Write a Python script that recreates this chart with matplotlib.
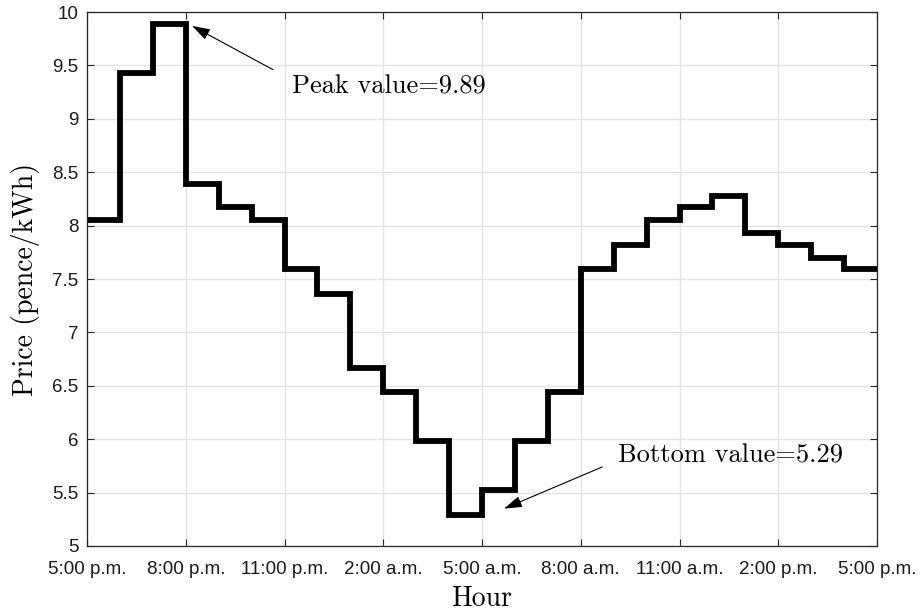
import matplotlib.pyplot as plt
import numpy as np

# Hourly electricity price over one day, starting at 5:00 p.m.
hours = np.arange(0, 25)
price = [8.05, 9.43, 9.89, 8.39, 8.17, 8.05, 7.59, 7.36, 6.67, 6.44, 5.98, 5.29,
         5.52, 5.98, 6.44, 7.59, 7.82, 8.05, 8.17, 8.28, 7.93, 7.82, 7.70, 7.59]
tick_hours = [0, 3, 6, 9, 12, 15, 18, 21, 24]
tick_labels = ['5:00 p.m.', '8:00 p.m.', '11:00 p.m.', '2:00 a.m.', '5:00 a.m.',
               '8:00 a.m.', '11:00 a.m.', '2:00 p.m.', '5:00 p.m.']
price_ticks = [5, 5.5, 6, 6.5, 7, 7.5, 8, 8.5, 9, 9.5, 10]
price_tick_labels = ['5', '5.5', '6', '6.5', '7', '7.5', '8', '8.5', '9', '9.5', '10']
peak_label = 'Peak value=9.89'
bottom_label = 'Bottom value=5.29'

fig = plt.figure(figsize=(9.22, 6.13), dpi=100)
ax = fig.add_axes([0.0944, 0.1093, 0.8568, 0.8711])

ax.stairs(price, hours, color='black', linewidth=4.2, baseline=None)

ax.set_xlim(0, 24)
ax.set_ylim(5, 10)
ax.set_xticks(tick_hours)
ax.set_xticklabels(tick_labels, fontfamily='Liberation Sans', fontsize=13.5)
ax.set_yticks(price_ticks)
ax.set_yticklabels(price_tick_labels, fontfamily='Liberation Sans', fontsize=13.5)

ax.grid(True, color='#e3e3e3', linewidth=1)
ax.set_axisbelow(True)
ax.tick_params(direction='in', top=True, right=True, length=5, color='#262626',
               labelcolor='#1a1a1a')
ax.tick_params(axis='x', pad=11)
ax.tick_params(axis='y', pad=6)
for s in ax.spines.values():
    s.set_color('#262626')
    s.set_linewidth(0.9)

ax.set_xlabel('Hour', fontfamily='cmr10', fontsize=20)
ax.set_ylabel('Price (pence/kWh)', fontfamily='cmr10', fontsize=20)
ax.xaxis.set_label_coords(0.5, -0.075)
ax.yaxis.set_label_coords(-0.0595, 0.5)

arrow = dict(arrowstyle='-|>,head_length=1.1,head_width=0.35', color='black',
             linewidth=0.8, shrinkA=0, shrinkB=0)
ax.annotate('', xy=(3.19, 9.87), xytext=(5.65, 9.46), arrowprops=arrow)
ax.text(6.23, 9.30, peak_label, fontfamily='cmr10', fontsize=19, va='center')
ax.annotate('', xy=(12.67, 5.35), xytext=(15.65, 5.74), arrowprops=arrow)
ax.text(16.13, 5.85, bottom_label, fontfamily='cmr10', fontsize=19, va='center')

fig.savefig('out.png', dpi=100)
